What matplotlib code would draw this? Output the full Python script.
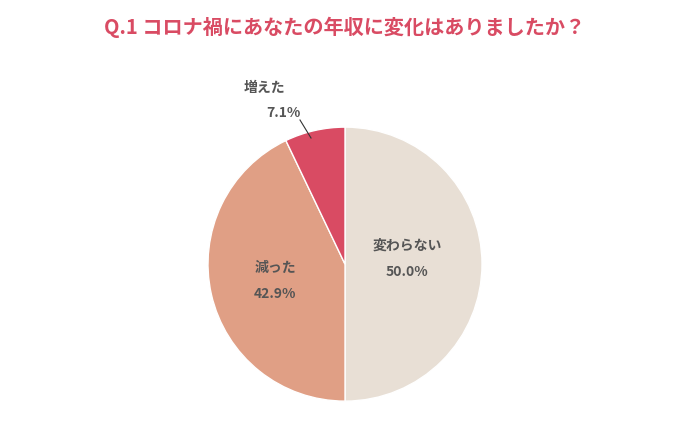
import matplotlib
matplotlib.use("Agg")
import matplotlib.pyplot as plt

plt.rcParams['font.family'] = ['Noto Sans CJK JP', 'DejaVu Sans']

labels = ["変わらない", "減った", "増えた"]
values = [50.0, 42.9, 7.1]
colors = ["#E8DFD5", "#E09F85", "#D94B63"]
title = "Q.1 コロナ禍にあなたの年収に変化はありましたか？"

fig = plt.figure(figsize=(6.9, 4.26), dpi=100)
fig.text(0.5, 0.935, title, ha='center', va='center', fontsize=14.5,
         fontweight='bold', color="#D94B63")

ax = fig.add_axes([0.5 - 0.1986, 0.380 - 0.3216, 0.3972, 0.6432])
ax.pie(values, colors=colors, startangle=90, counterclock=False,
       wedgeprops=dict(edgecolor='white', linewidth=1))
ax.set_aspect('equal')
ax.set_xlim(-1, 1); ax.set_ylim(-1, 1)

tc = "#555555"
def lab(x, y, s):
    fig.text(x / 690, 1 - y / 426, s, ha='center', va='center', fontsize=10,
             fontweight='bold', color=tc)

lab(407, 246, labels[0]); lab(407, 272, f"{values[0]:.1f}%")
lab(275, 268, labels[1]); lab(275, 294, f"{values[1]:.1f}%")
lab(265, 88, labels[2]); lab(283, 113, f"{values[2]:.1f}%")
fig.add_artist(plt.Line2D([300 / 690, 311 / 690], [1 - 120 / 426, 1 - 138 / 426],
                          color="#333333", linewidth=0.8))

fig.savefig("out.png", dpi=100, facecolor='white')
